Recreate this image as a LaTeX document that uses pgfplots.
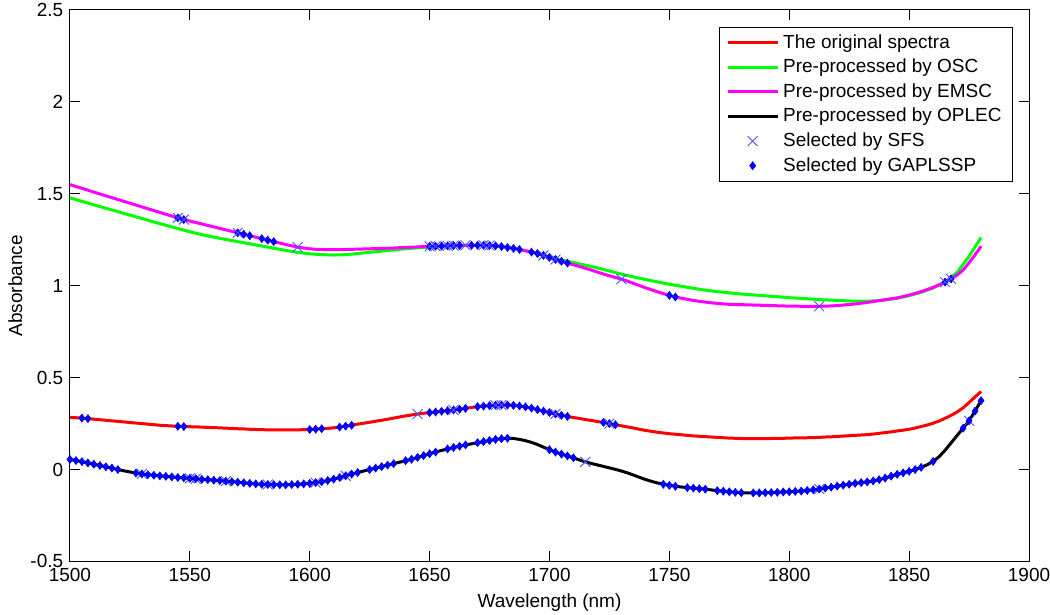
\documentclass[border=0pt]{standalone}
\usepackage{pgfplots}
\usepackage{pgfplotstable}
\pgfplotsset{compat=1.18}
\usepackage{fontspec}
\setmainfont{Liberation Sans}

% columns: x, y, g (selected by GAPLSSP), s (selected by SFS)
\pgfplotstableread{
x y g s
1500.0 0.055 1 0
1502.5 0.049 1 0
1505.0 0.043 1 0
1507.5 0.036 1 0
1510.0 0.029 1 0
1512.5 0.022 1 0
1515.0 0.015 1 0
1517.5 0.008 1 0
1520.0 0.000 1 0
1522.5 -0.007 0 0
1525.0 -0.013 0 0
1527.5 -0.019 1 0
1530.0 -0.024 1 1
1532.5 -0.028 1 0
1535.0 -0.031 1 0
1537.5 -0.034 1 0
1540.0 -0.037 1 0
1542.5 -0.040 1 0
1545.0 -0.043 1 0
1547.5 -0.045 1 0
1550.0 -0.048 1 1
1552.5 -0.050 1 1
1555.0 -0.053 1 0
1557.5 -0.055 1 0
1560.0 -0.058 1 0
1562.5 -0.060 1 0
1565.0 -0.063 1 1
1567.5 -0.066 1 0
1570.0 -0.069 1 0
1572.5 -0.072 1 0
1575.0 -0.075 1 0
1577.5 -0.078 1 0
1580.0 -0.080 1 0
1582.5 -0.081 1 1
1585.0 -0.082 1 0
1587.5 -0.083 1 0
1590.0 -0.083 1 0
1592.5 -0.082 1 0
1595.0 -0.080 1 0
1597.5 -0.078 1 0
1600.0 -0.075 1 0
1602.5 -0.071 1 1
1605.0 -0.066 1 0
1607.5 -0.060 1 0
1610.0 -0.052 1 0
1612.5 -0.043 1 0
1615.0 -0.034 1 1
1617.5 -0.025 1 0
1620.0 -0.016 1 0
1622.5 -0.008 0 0
1625.0 0.000 1 0
1627.5 0.008 1 0
1630.0 0.016 1 0
1632.5 0.024 1 0
1635.0 0.032 1 0
1637.5 0.040 0 0
1640.0 0.048 1 0
1642.5 0.056 1 0
1645.0 0.066 1 0
1647.5 0.076 1 0
1650.0 0.086 1 0
1652.5 0.095 1 0
1655.0 0.104 0 0
1657.5 0.112 1 0
1660.0 0.120 1 0
1662.5 0.127 1 0
1665.0 0.134 1 0
1667.5 0.140 0 0
1670.0 0.146 1 0
1672.5 0.152 1 0
1675.0 0.158 1 0
1677.5 0.164 1 0
1680.0 0.168 1 0
1682.5 0.170 1 0
1685.0 0.169 0 0
1687.5 0.164 0 0
1690.0 0.157 0 0
1692.5 0.148 0 0
1695.0 0.136 0 0
1697.5 0.122 0 0
1700.0 0.108 1 0
1702.5 0.095 1 0
1705.0 0.084 1 0
1707.5 0.074 1 0
1710.0 0.064 1 0
1712.5 0.052 0 0
1715.0 0.042 0 1
1717.5 0.033 0 0
1720.0 0.025 0 0
1722.5 0.017 0 0
1725.0 0.009 0 0
1727.5 0.001 0 0
1730.0 -0.008 0 0
1732.5 -0.018 0 0
1735.0 -0.030 0 0
1737.5 -0.042 0 0
1740.0 -0.054 0 0
1742.5 -0.064 0 0
1745.0 -0.073 0 0
1747.5 -0.080 1 0
1750.0 -0.086 1 0
1752.5 -0.091 1 0
1755.0 -0.095 0 0
1757.5 -0.098 1 0
1760.0 -0.101 1 0
1762.5 -0.104 1 0
1765.0 -0.107 1 0
1767.5 -0.111 0 0
1770.0 -0.115 1 0
1772.5 -0.118 1 0
1775.0 -0.121 1 0
1777.5 -0.124 1 0
1780.0 -0.126 1 0
1782.5 -0.127 0 0
1785.0 -0.127 1 0
1787.5 -0.127 1 0
1790.0 -0.126 1 0
1792.5 -0.125 1 0
1795.0 -0.124 1 0
1797.5 -0.122 1 0
1800.0 -0.121 1 0
1802.5 -0.119 1 0
1805.0 -0.117 1 0
1807.5 -0.114 1 0
1810.0 -0.110 1 0
1812.5 -0.106 1 1
1815.0 -0.101 1 0
1817.5 -0.096 1 0
1820.0 -0.090 1 0
1822.5 -0.085 1 0
1825.0 -0.080 1 0
1827.5 -0.075 1 0
1830.0 -0.071 1 0
1832.5 -0.067 1 0
1835.0 -0.062 1 0
1837.5 -0.055 1 0
1840.0 -0.046 1 0
1842.5 -0.036 1 0
1845.0 -0.026 1 0
1847.5 -0.018 1 0
1850.0 -0.010 1 0
1852.5 0.000 1 0
1855.0 0.012 1 0
1857.5 0.026 0 0
1860.0 0.044 1 0
1862.5 0.070 0 0
1865.0 0.105 0 0
1867.5 0.145 0 0
1870.0 0.185 0 0
1872.5 0.225 1 0
1875.0 0.265 1 1
1877.5 0.318 1 0
1880.0 0.375 1 0
}\blacktab

\pgfplotstableread{
x y g s
1500.0 0.284 0 0
1502.5 0.282 0 0
1505.0 0.280 1 0
1507.5 0.277 1 0
1510.0 0.274 0 0
1512.5 0.271 0 0
1515.0 0.268 0 0
1517.5 0.265 0 0
1520.0 0.262 0 0
1522.5 0.259 0 0
1525.0 0.256 0 0
1527.5 0.253 0 0
1530.0 0.250 0 0
1532.5 0.247 0 0
1535.0 0.244 0 0
1537.5 0.241 0 0
1540.0 0.239 0 0
1542.5 0.237 0 0
1545.0 0.235 1 0
1547.5 0.234 1 0
1550.0 0.233 0 0
1552.5 0.232 0 0
1555.0 0.231 0 0
1557.5 0.229 0 0
1560.0 0.228 0 0
1562.5 0.227 0 0
1565.0 0.225 0 0
1567.5 0.224 0 0
1570.0 0.222 0 0
1572.5 0.221 0 0
1575.0 0.219 0 0
1577.5 0.218 0 0
1580.0 0.217 0 0
1582.5 0.216 0 0
1585.0 0.216 0 0
1587.5 0.216 0 0
1590.0 0.216 0 0
1592.5 0.216 0 0
1595.0 0.216 0 0
1597.5 0.217 0 0
1600.0 0.218 1 0
1602.5 0.220 1 0
1605.0 0.222 1 0
1607.5 0.224 0 0
1610.0 0.227 0 0
1612.5 0.231 1 0
1615.0 0.236 1 0
1617.5 0.241 1 0
1620.0 0.247 0 0
1622.5 0.252 0 0
1625.0 0.257 0 0
1627.5 0.263 0 0
1630.0 0.268 0 0
1632.5 0.274 0 0
1635.0 0.280 0 0
1637.5 0.286 0 0
1640.0 0.292 0 0
1642.5 0.297 0 0
1645.0 0.302 0 1
1647.5 0.306 0 0
1650.0 0.310 1 0
1652.5 0.313 1 0
1655.0 0.317 1 0
1657.5 0.320 1 0
1660.0 0.324 1 1
1662.5 0.328 1 0
1665.0 0.333 1 0
1667.5 0.338 0 0
1670.0 0.342 1 0
1672.5 0.345 1 0
1675.0 0.348 1 0
1677.5 0.350 1 1
1680.0 0.351 1 1
1682.5 0.351 1 0
1685.0 0.349 1 0
1687.5 0.346 1 0
1690.0 0.341 1 0
1692.5 0.334 1 0
1695.0 0.326 1 0
1697.5 0.318 1 0
1700.0 0.310 1 0
1702.5 0.302 1 1
1705.0 0.295 1 0
1707.5 0.289 1 0
1710.0 0.283 0 0
1712.5 0.278 0 0
1715.0 0.272 0 0
1717.5 0.267 0 0
1720.0 0.261 0 0
1722.5 0.256 1 0
1725.0 0.250 1 1
1727.5 0.244 1 0
1730.0 0.238 0 0
1732.5 0.232 0 0
1735.0 0.226 0 0
1737.5 0.219 0 0
1740.0 0.213 0 0
1742.5 0.208 0 0
1745.0 0.203 0 0
1747.5 0.199 0 0
1750.0 0.195 0 0
1752.5 0.192 0 0
1755.0 0.189 0 0
1757.5 0.186 0 0
1760.0 0.183 0 0
1762.5 0.181 0 0
1765.0 0.179 0 0
1767.5 0.177 0 0
1770.0 0.175 0 0
1772.5 0.173 0 0
1775.0 0.171 0 0
1777.5 0.170 0 0
1780.0 0.169 0 0
1782.5 0.168 0 0
1785.0 0.168 0 0
1787.5 0.168 0 0
1790.0 0.168 0 0
1792.5 0.169 0 0
1795.0 0.169 0 0
1797.5 0.170 0 0
1800.0 0.171 0 0
1802.5 0.172 0 0
1805.0 0.172 0 0
1807.5 0.173 0 0
1810.0 0.174 0 0
1812.5 0.175 0 0
1815.0 0.177 0 0
1817.5 0.178 0 0
1820.0 0.180 0 0
1822.5 0.182 0 0
1825.0 0.184 0 0
1827.5 0.186 0 0
1830.0 0.188 0 0
1832.5 0.190 0 0
1835.0 0.193 0 0
1837.5 0.197 0 0
1840.0 0.201 0 0
1842.5 0.205 0 0
1845.0 0.210 0 0
1847.5 0.214 0 0
1850.0 0.219 0 0
1852.5 0.226 0 0
1855.0 0.234 0 0
1857.5 0.242 0 0
1860.0 0.252 0 0
1862.5 0.264 0 0
1865.0 0.279 0 0
1867.5 0.295 0 0
1870.0 0.313 0 0
1872.5 0.336 0 0
1875.0 0.365 0 0
1877.5 0.395 0 0
1880.0 0.425 0 0
}\redtab

\pgfplotstableread{
x y g s
1500.0 1.550 0 0
1502.5 1.540 0 0
1505.0 1.530 0 0
1507.5 1.520 0 0
1510.0 1.509 0 0
1512.5 1.499 0 0
1515.0 1.489 0 0
1517.5 1.479 0 0
1520.0 1.469 0 0
1522.5 1.459 0 0
1525.0 1.449 0 0
1527.5 1.439 0 0
1530.0 1.429 0 0
1532.5 1.419 0 0
1535.0 1.409 0 0
1537.5 1.399 0 0
1540.0 1.389 0 0
1542.5 1.379 0 0
1545.0 1.369 1 1
1547.5 1.360 1 1
1550.0 1.352 0 0
1552.5 1.344 0 0
1555.0 1.336 0 0
1557.5 1.328 0 0
1560.0 1.320 0 0
1562.5 1.312 0 0
1565.0 1.304 0 0
1567.5 1.296 0 0
1570.0 1.288 1 1
1572.5 1.280 1 0
1575.0 1.272 1 0
1577.5 1.264 0 0
1580.0 1.256 1 0
1582.5 1.248 1 0
1585.0 1.240 1 0
1587.5 1.232 0 0
1590.0 1.224 0 0
1592.5 1.217 0 0
1595.0 1.210 0 1
1597.5 1.205 0 0
1600.0 1.201 0 0
1602.5 1.198 0 0
1605.0 1.197 0 0
1607.5 1.196 0 0
1610.0 1.196 0 0
1612.5 1.196 0 0
1615.0 1.197 0 0
1617.5 1.198 0 0
1620.0 1.199 0 0
1622.5 1.200 0 0
1625.0 1.201 0 0
1627.5 1.202 0 0
1630.0 1.203 0 0
1632.5 1.204 0 0
1635.0 1.205 0 0
1637.5 1.207 0 0
1640.0 1.208 0 0
1642.5 1.210 0 0
1645.0 1.211 0 0
1647.5 1.213 0 0
1650.0 1.214 1 1
1652.5 1.215 1 1
1655.0 1.216 1 0
1657.5 1.217 1 1
1660.0 1.218 1 1
1662.5 1.219 1 0
1665.0 1.220 0 1
1667.5 1.220 1 0
1670.0 1.220 1 0
1672.5 1.220 1 1
1675.0 1.219 1 1
1677.5 1.217 1 0
1680.0 1.213 1 0
1682.5 1.208 1 0
1685.0 1.203 1 0
1687.5 1.197 1 0
1690.0 1.190 0 0
1692.5 1.183 1 0
1695.0 1.175 1 0
1697.5 1.165 1 1
1700.0 1.154 1 0
1702.5 1.143 1 1
1705.0 1.133 1 0
1707.5 1.123 1 0
1710.0 1.114 0 0
1712.5 1.105 0 0
1715.0 1.095 0 0
1717.5 1.085 0 0
1720.0 1.074 0 0
1722.5 1.064 0 0
1725.0 1.054 0 0
1727.5 1.045 0 0
1730.0 1.036 0 1
1732.5 1.025 0 0
1735.0 1.013 0 0
1737.5 1.001 0 0
1740.0 0.989 0 0
1742.5 0.978 0 0
1745.0 0.967 0 0
1747.5 0.957 0 0
1750.0 0.947 1 0
1752.5 0.939 1 0
1755.0 0.932 0 0
1757.5 0.926 0 0
1760.0 0.920 0 0
1762.5 0.915 0 0
1765.0 0.911 0 0
1767.5 0.907 0 0
1770.0 0.904 0 0
1772.5 0.901 0 0
1775.0 0.899 0 0
1777.5 0.898 0 0
1780.0 0.897 0 0
1782.5 0.896 0 0
1785.0 0.895 0 0
1787.5 0.894 0 0
1790.0 0.893 0 0
1792.5 0.892 0 0
1795.0 0.891 0 0
1797.5 0.890 0 0
1800.0 0.889 0 0
1802.5 0.889 0 0
1805.0 0.888 0 0
1807.5 0.888 0 0
1810.0 0.888 0 0
1812.5 0.888 0 1
1815.0 0.889 0 0
1817.5 0.890 0 0
1820.0 0.892 0 0
1822.5 0.895 0 0
1825.0 0.898 0 0
1827.5 0.901 0 0
1830.0 0.905 0 0
1832.5 0.909 0 0
1835.0 0.914 0 0
1837.5 0.919 0 0
1840.0 0.924 0 0
1842.5 0.929 0 0
1845.0 0.934 0 0
1847.5 0.941 0 0
1850.0 0.949 0 0
1852.5 0.958 0 0
1855.0 0.968 0 0
1857.5 0.979 0 0
1860.0 0.991 0 0
1862.5 1.005 0 0
1865.0 1.020 1 1
1867.5 1.037 1 1
1870.0 1.058 0 0
1872.5 1.085 0 0
1875.0 1.125 0 0
1877.5 1.168 0 0
1880.0 1.215 0 0
}\magtab

\pgfplotstableread{
x y
1500 1.478
1505 1.459
1510 1.440
1515 1.421
1520 1.403
1525 1.384
1530 1.366
1535 1.347
1540 1.329
1545 1.311
1550 1.294
1555 1.278
1560 1.264
1565 1.252
1570 1.240
1575 1.228
1580 1.216
1585 1.204
1590 1.192
1595 1.181
1600 1.174
1605 1.169
1610 1.167
1615 1.169
1620 1.175
1625 1.182
1630 1.188
1635 1.195
1640 1.201
1645 1.206
1650 1.210
1655 1.214
1660 1.217
1665 1.219
1670 1.220
1675 1.219
1680 1.214
1685 1.204
1690 1.191
1695 1.176
1700 1.158
1705 1.140
1710 1.126
1715 1.112
1720 1.097
1725 1.080
1730 1.063
1735 1.048
1740 1.034
1745 1.021
1750 1.008
1755 0.997
1760 0.986
1765 0.976
1770 0.968
1775 0.961
1780 0.955
1785 0.950
1790 0.945
1795 0.940
1800 0.935
1805 0.931
1810 0.927
1815 0.923
1820 0.920
1825 0.917
1830 0.916
1835 0.917
1840 0.922
1845 0.932
1850 0.946
1855 0.964
1860 0.988
1865 1.020
1870 1.072
1875 1.160
1880 1.262
}\greentab

\definecolor{sfsblue}{RGB}{80,80,255}
\definecolor{mgreen}{RGB}{0,255,0}
\definecolor{mmag}{RGB}{255,0,255}
\definecolor{mred}{RGB}{255,0,0}

\begin{document}
\fontsize{9.5}{11.5}\selectfont
\begin{tikzpicture}
\begin{axis}[
  scale only axis, width=480pt, height=276pt,
  at={(0,0)}, anchor=south west,
  xmin=1500, xmax=1900, ymin=-0.5, ymax=2.5,
  xtick={1500,1550,1600,1650,1700,1750,1800,1850,1900},
  ytick={-0.5,0,0.5,1,1.5,2,2.5},
  yticklabels={-0.5,0,0.5,1,1.5,2,2.5},
  tick align=inside, major tick length=5pt,
  tick style={black, line width=0.5pt},
  axis line style={black, line width=0.5pt},
  /pgf/number format/assume math mode=true,
  /pgf/number format/1000 sep={},
  tick label style={font=\fontsize{9.5}{11}\selectfont},
  xlabel={Wavelength (nm)}, ylabel={Absorbance},
  label style={font=\fontsize{9.5}{11}\selectfont},
  xlabel style={at={(axis description cs:0.5,-0.074)}, anchor=center},
  ylabel style={at={(axis description cs:-0.057,0.5)}, anchor=center},
  legend style={at={(axis description cs:1,1)}, anchor=north east,
    xshift=-8pt, yshift=-8.5pt, draw=black, line width=0.5pt,
    font=\fontsize{9.5}{11}\selectfont, row sep=0pt,
    inner xsep=3.5pt, inner ysep=1.5pt},
  legend cell align=left,
  lineleg/.style={legend image code/.code={\draw[##1] (0pt,0pt) -- (25pt,0pt);}},
  markleg/.style={legend image code/.code={\draw[mark repeat=2,mark phase=2,##1] plot coordinates {(0pt,0pt) (12.5pt,0pt) (25pt,0pt)};}},
  gsel/.style={only marks, mark=diamond*, mark size=2pt, blue, mark options={fill=blue, draw=blue, line width=0.3pt},
    restrict expr to domain={\thisrow{g}}{0.5:1.5}},
  ssel/.style={only marks, mark=x, mark size=3.5pt, sfsblue, mark options={line width=0.45pt},
    restrict expr to domain={\thisrow{s}}{0.5:1.5}},
]
\addplot[mred, line width=1.5pt, lineleg] table[x=x,y=y]{\redtab};
\addlegendentry{The original spectra}
\addplot[mgreen, line width=1.5pt, lineleg] table[x=x,y=y]{\greentab};
\addlegendentry{Pre-processed by OSC}
\addplot[mmag, line width=1.5pt, lineleg] table[x=x,y=y]{\magtab};
\addlegendentry{Pre-processed by EMSC}
\addplot[black, line width=1.5pt, lineleg] table[x=x,y=y]{\blacktab};
\addlegendentry{Pre-processed by OPLEC}
\addplot[ssel, markleg] table[x=x,y=y]{\blacktab};
\addlegendentry{Selected by SFS}
\addplot[gsel, markleg] table[x=x,y=y]{\blacktab};
\addlegendentry{Selected by GAPLSSP}
\addplot[gsel, forget plot] table[x=x,y=y]{\redtab};
\addplot[gsel, forget plot] table[x=x,y=y]{\magtab};
\addplot[ssel, forget plot] table[x=x,y=y]{\redtab};
\addplot[ssel, forget plot] table[x=x,y=y]{\magtab};
\end{axis}
\pgfresetboundingbox
\path[use as bounding box] (-35pt,-26.5pt) rectangle (490.5pt,281pt);
\end{tikzpicture}
\end{document}
